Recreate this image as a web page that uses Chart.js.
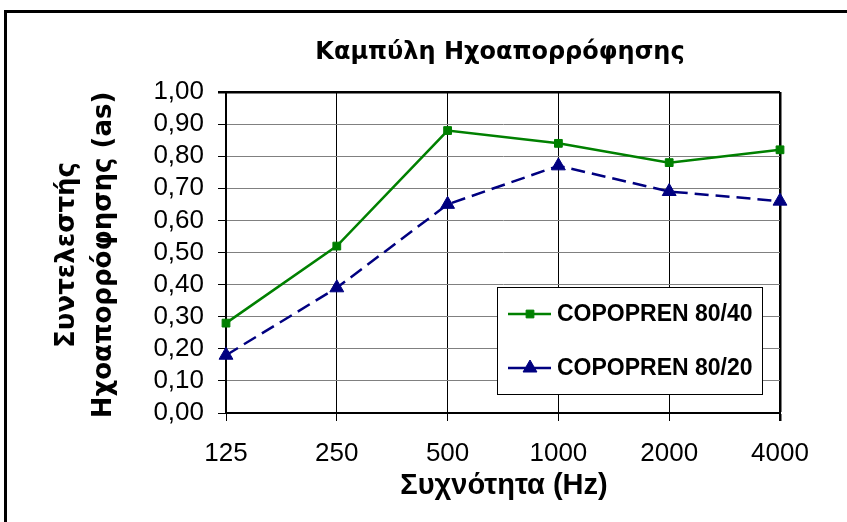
<!DOCTYPE html>
<html>
<head>
<meta charset="utf-8">
<script src="https://cdn.jsdelivr.net/npm/chart.js@4.4.1/dist/chart.umd.min.js"></script>
<style>
  html, body { margin: 0; padding: 0; background: #fff; overflow: hidden; }
  #frame { position: absolute; left: 4px; top: 10px; width: 900px; height: 600px; border: 3px solid #000; }
  #absChart { position: absolute; left: 0; top: 0; }
</style>
</head>
<body>
<div id="frame"></div>
<canvas id="absChart" width="847" height="522"></canvas>
<script>
const frequencies = ['125', '250', '500', '1000', '2000', '4000'];
const copopren8040 = [0.28, 0.52, 0.88, 0.84, 0.78, 0.82];
const copopren8020 = [0.18, 0.39, 0.65, 0.77, 0.69, 0.66];
const seriesNames = ['COPOPREN 80/40', 'COPOPREN 80/20'];
const chartTitle = 'Καμπύλη Ηχοαπορρόφησης';
const xTitle = 'Συχνότητα (Hz)';
const yTitle = ['Συντελεστής', 'Ηχοαπορρόφησης (as)'];

// titles + legend box drawn by hand (Excel style legend sits inside the plot)
const excelText = {
    id: 'excelText',
    afterDraw: (chart) => {
        const ctx = chart.ctx;
        const area = chart.chartArea;
        const cx = (area.left + area.right) / 2;
        ctx.save();
        ctx.fillStyle = '#000';
        ctx.textAlign = 'center';
        ctx.textBaseline = 'alphabetic';
        ctx.font = 'bold 24px "DejaVu Sans"';
        ctx.fillText(chartTitle, 500, 59);
        ctx.font = 'bold 29px "Liberation Sans"';
        ctx.fillText(xTitle, cx + 1, 494);

        ctx.save();
        ctx.translate(0, 255);
        ctx.rotate(-Math.PI / 2);
        ctx.textBaseline = 'middle';
        ctx.font = 'bold 26px "DejaVu Sans"';
        ctx.fillText(yTitle[0], 0, 67);
        ctx.fillText(yTitle[1], 0, 104);
        ctx.restore();

        // legend
        ctx.fillStyle = '#fff';
        ctx.fillRect(497, 287, 266, 108);
        ctx.strokeStyle = '#000';
        ctx.lineWidth = 1;
        ctx.strokeRect(497.5, 287.5, 265, 107);
        chart.data.datasets.forEach((ds, i) => {
            const y = 314 + i * 54;
            ctx.strokeStyle = ds.borderColor;
            ctx.lineWidth = ds.borderWidth;
            ctx.setLineDash([]);
            ctx.beginPath();
            ctx.moveTo(508, y);
            ctx.lineTo(551, y);
            ctx.stroke();
            ctx.fillStyle = ds.pointBackgroundColor;
            ctx.strokeStyle = ds.pointBorderColor;
            ctx.lineWidth = 1;
            Chart.helpers.drawPoint(ctx, { pointStyle: ds.pointStyle, radius: ds.pointRadius, rotation: 0, borderWidth: 1 }, 530, y);
            ctx.fillStyle = '#000';
            ctx.textAlign = 'left';
            ctx.textBaseline = 'middle';
            ctx.font = 'bold 23px "Liberation Sans"';
            ctx.fillText(ds.label, 557, y + 1);
        });
        ctx.restore();
    }
};

const absChart = new Chart(document.getElementById('absChart').getContext('2d'), {
    type: 'line',
    data: {
        labels: frequencies,
        datasets: [
            {
                label: seriesNames[0], data: copopren8040,
                borderColor: '#008000', borderWidth: 2.5, tension: 0,
                pointStyle: 'rect', pointRadius: 5.5,
                pointBackgroundColor: '#008000', pointBorderColor: '#008000', pointBorderWidth: 1
            },
            {
                label: seriesNames[1], data: copopren8020,
                borderColor: '#000080', borderWidth: 2.5, tension: 0, borderDash: [14, 7],
                pointStyle: 'triangle', pointRadius: 8,
                pointBackgroundColor: '#000080', pointBorderColor: '#000080', pointBorderWidth: 1
            }
        ]
    },
    options: {
        responsive: false,
        animation: false,
        layout: { padding: { left: 0, right: 67, top: 92, bottom: 0 } },
        plugins: {
            legend: { display: false },
            title: { display: false },
            tooltip: { enabled: false }
        },
        scales: {
            x: {
                offset: false,
                grid: {
                    color: '#000',
                    lineWidth: (c) => c.index === frequencies.length - 1 ? 2.5 : 1,
                    tickLength: 8,
                    tickColor: '#000'
                },
                border: { color: '#000', width: 2 },
                ticks: {
                    color: '#000',
                    font: { family: 'Liberation Sans', size: 26 },
                    padding: 17,
                    maxRotation: 0,
                    autoSkip: false
                },
                afterFit: (scale) => { scale.height = 109; }
            },
            y: {
                min: 0,
                max: 1,
                grid: {
                    color: (c) => c.tick && c.tick.value > 0.999 ? '#000' : '#808080',
                    lineWidth: (c) => c.tick && c.tick.value > 0.999 ? 2.5 : 1,
                    tickLength: 8,
                    tickColor: '#000'
                },
                border: { color: '#000', width: 2 },
                ticks: {
                    stepSize: 0.1,
                    autoSkip: false,
                    color: '#000',
                    font: { family: 'Liberation Sans', size: 26 },
                    padding: 14,
                    callback: (v) => v.toFixed(2).replace('.', ',')
                },
                afterFit: (scale) => { scale.width = 226; }
            }
        }
    },
    plugins: [excelText]
});
</script>
</body>
</html>
